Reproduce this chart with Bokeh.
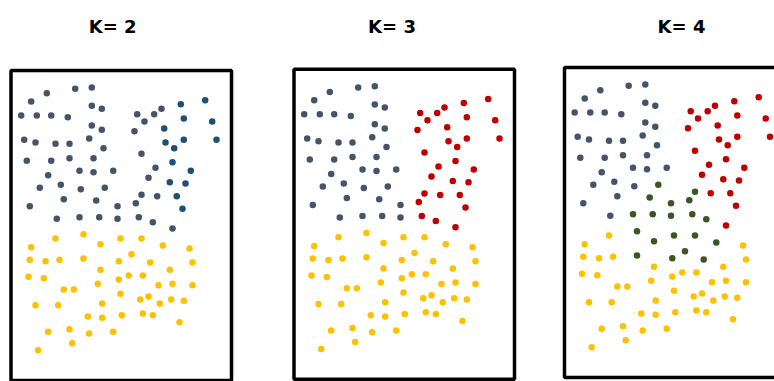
from bokeh.plotting import figure
from bokeh.layouts import row
from bokeh.models import Range1d, BoxAnnotation, Label, ColumnDataSource
from bokeh.embed import file_html
from bokeh.resources import INLINE

# ---------------- data (same points in every panel) ----------------
left_x = [35.8, 64.2, 80.8, 20.2, 80.8, 90.8, 10.2, 25.8, 40.2, 56.8,
          80.8, 90.8, 13.2, 24.5, 44.5, 58.5, 78.2, 92.5, 15.8, 40.2,
          58.5, 82.5, 68.5, 82.5, 102.2, 37.2, 28.8, 49.8, 69.8, 93.8,
          52.8, 85.2, 18.8, 106.5, 45.8, 68.5, 88.2, 106.5]
left_y = [287.3, 291.7, 293, 279, 274.7, 271.7, 265, 265, 265, 263.3,
          255, 250.7, 240.7, 238, 236.7, 236.7, 242, 232.3, 219.7, 219.7,
          222.3, 222.3, 209.7, 208.3, 209.7, 205.3, 192.7, 195.7, 191.3, 192.7,
          181.3, 180, 174.3, 174.3, 161.7, 163.3, 163.3, 161.7]

right_x = [126.2, 143.2, 150.5, 133.5, 123.5, 130.5, 144.5, 137.5, 130.5, 146.2,
           124.8, 127.8, 141.8, 161.5]
right_y = [266.3, 266.3, 271.7, 259, 249.3, 226.7, 212.7, 202.7, 185.7, 184.3,
           177.3, 163.3, 158.3, 152]

far_x = [169.8, 194.2, 172.8, 201.2, 153.2, 154.5, 172.8, 205.5, 163.2, 161.5,
         179.8, 158.8, 174.5, 165.8, 171.5]
far_y = [276.3, 280.3, 262, 259, 252, 238, 240.7, 240.7, 232.3, 218.3,
         209.7, 198.3, 197, 184.3, 171.7]

low_x = [44.5, 72.5, 20.2, 89.5, 109.5, 130.5, 151.8, 178.5, 18.8, 34.5,
         48.5, 72.5, 107.8, 120.5, 139.2, 181.5, 17.5, 32.8, 89.5, 107.8,
         117.8, 131.8, 158.8, 86.8, 147.5, 161.5, 181.5, 52.8, 62.8, 109.5,
         129.2, 137.5, 148.8, 160.2, 172.8, 24.5, 47.2, 91.2, 76.8, 91.2,
         110.8, 131.8, 141.8, 168.5, 37.2, 58.5, 78.2, 102.2, 61.2, 27.2]
low_y = [142, 146.3, 133.3, 136.3, 142, 142, 135, 132, 120.7, 119.3,
         120.7, 122, 119.3, 126.3, 118, 118, 103.7, 102.3, 110.7, 101,
         105, 105, 110.7, 96.7, 95.3, 96.7, 95.3, 91, 91, 86.7,
         81, 84, 77, 81, 79.7, 75.3, 75.3, 77, 64, 62.7,
         65.3, 67, 65.3, 58.3, 48.7, 51.3, 47, 48.7, 37.3, 30.3]

# cluster codes per panel (S slate, B blue, R red, Y gold, G green)
k2_codes = ("SSSSSSSSSS SSSSSSSSSS SSSSSSSSSS SSSSSSSS"
            " SSSSSSSSSS SSSS"
            " BBBBBBBBBB BBBBB"
            " YYYYYYYYYY YYYYYYYYYY YYYYYYYYYY YYYYYYYYYY YYYYYYYYYY")
k3_codes = ("SSSSSSSSSS SSSSSSSSSS SSSSSSSSSS SSSSSSSS"
            " RRRRRRRRRR RRRR"
            " RRRRRRRRRR RRRRR"
            " YYYYYYYYYY YYYYYYYYYY YYYYYYYYYY YYYYYYYYYY YYYYYYYYYY")
k4_codes = ("SSSSSSSSSS SSSSSSSSSS SSSSSSSSSG SGSGSGGG"
            " RRRRRRRRGR GGGR"
            " RRRRRRRRRR RRRRR"
            " YGYGGGGYYY YGGGGYYYYY YYYYYYYYYY YYYYYYYYYY YYYYYYYYYY")

titles = ["K= 2", "K= 3", "K= 4"]
codes = [k2_codes, k3_codes, k4_codes]

palette = {"S": "#44546A", "B": "#1F4E79", "R": "#C00000",
           "Y": "#FFC000", "G": "#385723"}

xs = left_x + right_x + far_x + low_x
ys = left_y + right_y + far_y + low_y

# ---------------- layout ----------------
HEIGHT = 381
widths = [262, 277, 235]
x_ranges = [(-10.5, 251.5), (-31.5, 245.5), (-25.0, 210.0)]
y_ranges = [(-1.0, 380.0), (-2.3, 378.7), (-4.0, 377.0)]
title_pos = [(101.7, 354.0), (98.0, 352.7), (117.0, 351.0)]
box_edges = dict(left=0, right=220.5, bottom=0, top=310)

figs = []
for i, t in enumerate(titles):
    lab = list(codes[i].replace(" ", ""))
    assert len(lab) == len(xs)
    src = ColumnDataSource(dict(x=xs, y=ys, c=[palette[k] for k in lab]))
    p = figure(width=widths[i], height=HEIGHT, output_backend="svg",
               toolbar_location=None, x_axis_type=None, y_axis_type=None,
               x_range=Range1d(*x_ranges[i]), y_range=Range1d(*y_ranges[i]),
               min_border=0, title=None)
    p.outline_line_color = None
    p.background_fill_color = "white"
    p.border_fill_color = "white"
    p.grid.visible = False
    p.scatter("x", "y", source=src, size=6.5, fill_color="c", line_color=None)
    p.add_layout(BoxAnnotation(fill_color=None, line_color="black",
                               line_alpha=1.0, line_width=3.5, **box_edges))
    tx, ty = title_pos[i]
    p.add_layout(Label(x=tx, y=ty, text=t, text_align="center",
                       text_baseline="alphabetic", text_font="DejaVu Sans",
                       text_font_style="bold", text_font_size="18px",
                       text_color="black"))
    figs.append(p)

layout = row(*figs)
open("out.html", "w").write(file_html(layout, INLINE))
